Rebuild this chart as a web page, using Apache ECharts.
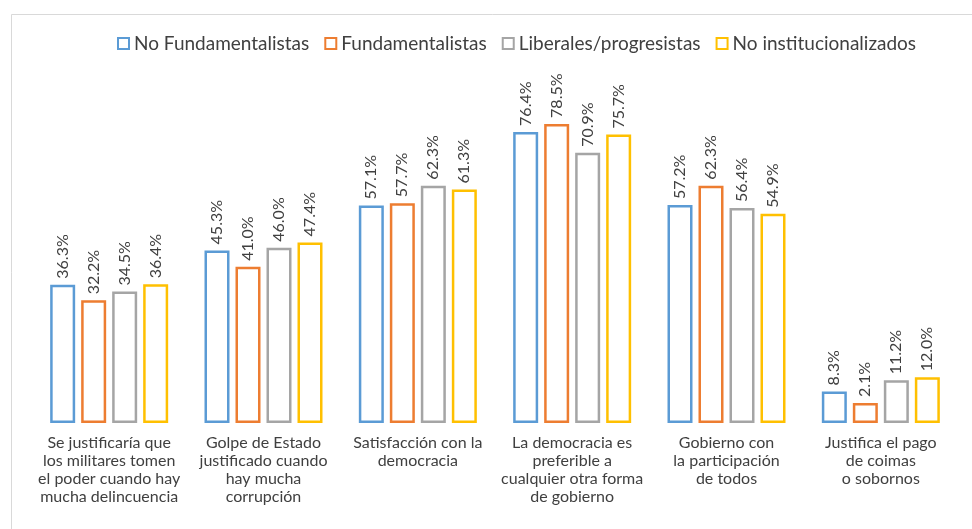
<!DOCTYPE html>
<html>
<head>
<meta charset="utf-8">
<script src="https://cdn.jsdelivr.net/npm/echarts@6/dist/echarts.min.js"></script>
<style>html,body{margin:0;padding:0;background:#fff}#c{width:972px;height:529px}</style>
</head>
<body>
<div id="c"></div>
<script>
const categories = [
  "Se justificaría que\nlos militares tomen\nel poder cuando hay\nmucha delincuencia",
  "Golpe de Estado\njustificado cuando\nhay mucha\ncorrupción",
  "Satisfacción con la\ndemocracia",
  "La democracia es\npreferible a\ncualquier otra forma\nde gobierno",
  "Gobierno con\nla participación\nde todos",
  "Justifica el pago\nde coimas\no sobornos"
];
const seriesNames = ["No Fundamentalistas", "Fundamentalistas", "Liberales/progresistas", "No institucionalizados"];
const noFundamentalistas = [36.3, 45.3, 57.1, 76.4, 57.2, 8.3];
const fundamentalistas = [32.2, 41.0, 57.7, 78.5, 62.3, 2.1];
const liberales = [34.5, 46.0, 62.3, 70.9, 56.4, 11.2];
const noInstitucionalizados = [36.4, 47.4, 61.3, 75.7, 54.9, 12.0];

const colors = ["#5B9BD5", "#ED7D31", "#A5A5A5", "#FFC000"];
const dataSets = [noFundamentalistas, fundamentalistas, liberales, noInstitucionalizados];
const FONT = "Lato";

const chart = echarts.init(document.getElementById('c'), null, {renderer: 'canvas'});
chart.setOption({
  animation: false,
  backgroundColor: '#fff',
  graphic: [{
    type: 'rect', left: 9, top: 12, shape: {width: 1100, height: 700},
    style: {fill: 'none', stroke: '#d9d9d9', lineWidth: 1}, z: -1, silent: true
  }],
  legend: {
    top: 29, left: 112,
    itemWidth: 11, itemHeight: 11, itemGap: 15,
    icon: 'rect',
    textStyle: {fontFamily: FONT, fontSize: 19, color: '#404040'},
    data: seriesNames
  },
  grid: {left: 32, right: 14, top: 42, bottom: 106, containLabel: false},
  xAxis: {
    type: 'category', data: categories,
    axisLine: {show: false}, axisTick: {show: false},
    axisLabel: {interval: 0, margin: 11, fontFamily: FONT, fontSize: 16, lineHeight: 18, color: '#404040', align: 'center', verticalAlign: 'top'}
  },
  yAxis: {type: 'value', min: 0, max: 100, show: false, splitLine: {show: false}},
  series: dataSets.map((d, i) => ({
    name: seriesNames[i], type: 'bar', data: d,
    barWidth: 25, barGap: '24%', barMinHeight: 20,
    itemStyle: {color: '#fff', borderColor: colors[i], borderWidth: 2.5},
    label: {
      show: true, position: 'top', rotate: 90, align: 'left', verticalAlign: 'middle', distance: 6,
      formatter: p => p.value.toFixed(1) + '%',
      fontFamily: FONT, fontSize: 16, color: '#404040'
    }
  }))
});
</script>
</body>
</html>
